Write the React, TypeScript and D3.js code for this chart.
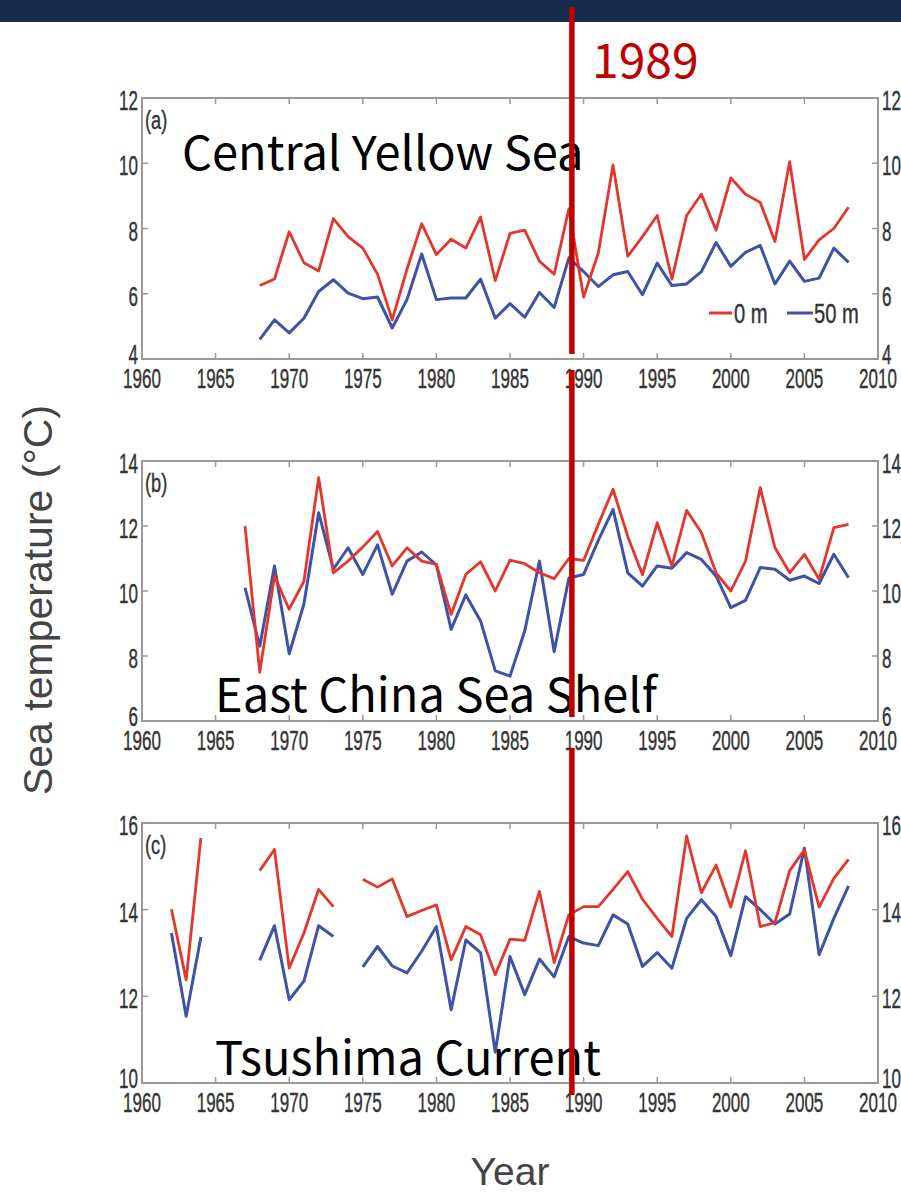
import React from "react";
import * as d3 from "d3";

// Central Yellow Sea (a), 1968-2008
const yearsA = d3.range(1968, 2009);
const surfaceA = [
  6.25, 6.45, 7.9, 6.95, 6.7, 8.3, 7.75, 7.4, 6.6, 5.2, 6.75, 8.15, 7.2, 7.67, 7.4, 8.35, 6.4, 7.85, 7.95, 7.0, 6.6,
  8.6, 5.9, 7.25, 9.95, 7.15, 7.75, 8.4, 6.45, 8.4, 9.05, 7.95, 9.55, 9.05, 8.8, 7.6, 10.05, 7.05, 7.65, 8.0, 8.65,
];
const deepA = [
  4.6, 5.2, 4.8, 5.25, 6.07, 6.43, 6.02, 5.85, 5.9, 4.95, 5.82, 7.22, 5.82, 5.87, 5.87, 6.45, 5.25, 5.7, 5.28, 6.04,
  5.58, 7.1, 6.68, 6.22, 6.58, 6.68, 5.97, 6.94, 6.25, 6.3, 6.68, 7.57, 6.84, 7.27, 7.48, 6.3, 7.0, 6.38, 6.48, 7.4,
  6.96,
];

// East China Sea Shelf (b), 1967-2008
const yearsB = d3.range(1967, 2009);
const surfaceB = [
  12.0, 7.5, 10.46, 9.44, 10.3, 13.49, 10.56, 10.92, 11.35, 11.83, 10.77, 11.33, 10.92, 10.82, 9.28, 10.51, 10.9, 10.0,
  10.95, 10.84, 10.56, 10.38, 11.0, 10.94, 12.05, 13.13, 11.68, 10.5, 12.1, 10.77, 12.48, 11.8, 10.56, 10.0, 10.92,
  13.18, 11.33, 10.56, 11.13, 10.36, 11.95, 12.05,
];
const deepB = [
  10.1, 8.3, 10.77, 8.07, 9.6, 12.41, 10.67, 11.33, 10.51, 11.42, 9.9, 10.92, 11.2, 10.8, 8.82, 9.88, 9.08, 7.54, 7.38,
  8.77, 10.92, 8.13, 10.4, 10.51, 11.56, 12.51, 10.56, 10.15, 10.77, 10.7, 11.18, 10.97, 10.46, 9.49, 9.71, 10.72,
  10.67, 10.33, 10.46, 10.23, 11.13, 10.41,
];

// Tsushima Current (c), 1962-2008, null = no observation
const yearsC = d3.range(1962, 2009);
const surfaceC = [
  14.01, 12.38, 15.65, null, null, null, 14.9, 15.39, 12.65, 13.46, 14.47, 14.07, null, 14.7, 14.52, 14.71, 13.84,
  13.98, 14.11, 12.84, 13.61, 13.42, 12.5, 13.32, 13.29, 14.42, 12.78, 13.88, 14.07, 14.07, 14.47, 14.88, 14.24, 13.8,
  13.38, 15.7, 14.39, 15.03, 14.06, 15.36, 13.61, 13.7, 14.9, 15.38, 14.06, 14.72, 15.16,
];
const deepC = [
  13.46, 11.54, 13.37, null, null, null, 12.83, 13.63, 11.92, 12.35, 13.63, 13.38, null, 12.68, 13.15, 12.7, 12.54,
  13.04, 13.61, 11.69, 13.3, 13.01, 10.71, 12.92, 12.04, 12.86, 12.45, 13.38, 13.23, 13.17, 13.88, 13.67, 12.69,
  13.01, 12.65, 13.8, 14.23, 13.84, 12.94, 14.3, 14.0, 13.67, 13.9, 15.42, 12.96, 13.8, 14.55,
];

const xTicks = [1960, 1965, 1970, 1975, 1980, 1985, 1990, 1995, 2000, 2005, 2010];
const ticksA = [4, 6, 8, 10, 12];
const ticksB = [6, 8, 10, 12, 14];
const ticksC = [10, 12, 14, 16];
const regionNames = ["Central Yellow Sea", "East China Sea Shelf", "Tsushima Current"];
const panelTags = ["(a)", "(b)", "(c)"];
const legendLabels = ["0 m", "50 m"];
const SHIFT_YEAR = 1989;

const RED = "#e5362d";
const BLUE = "#3f52a6";
const AXIS = "#9a9a9a";
const LABEL = "#333";
const MARK = "#c00000";
const TICK_FONT = "'Liberation Sans', Arial, sans-serif";
const KR_FONT = "'Noto Sans CJK KR', 'Noto Sans', sans-serif";

const x = d3.scaleLinear().domain([1960, 2010]).range([142, 878]);

interface Panel {
  top: number;
  bottom: number;
  domain: [number, number];
  ticks: number[];
  years: number[];
  surface: (number | null)[];
  deep: (number | null)[];
  name: string;
  tag: string;
  nameX: number;
  nameY: number;
}

const panels: Panel[] = [
  { top: 98, bottom: 359, domain: [4, 12], ticks: ticksA, years: yearsA, surface: surfaceA, deep: deepA, name: regionNames[0], tag: panelTags[0], nameX: 182, nameY: 170 },
  { top: 461, bottom: 721, domain: [6, 14], ticks: ticksB, years: yearsB, surface: surfaceB, deep: deepB, name: regionNames[1], tag: panelTags[1], nameX: 215, nameY: 712 },
  { top: 823, bottom: 1083, domain: [10, 16], ticks: ticksC, years: yearsC, surface: surfaceC, deep: deepC, name: regionNames[2], tag: panelTags[2], nameX: 215, nameY: 1075 },
];

// matlab style narrow labels
function Narrow({ x, y, anchor, size, sx, fill, children }: any) {
  return (
    <text
      transform={`translate(${x},${y}) scale(${sx},1)`}
      textAnchor={anchor}
      fontSize={size}
      fontFamily={TICK_FONT}
      fill={fill}
      stroke={fill}
      strokeWidth={0.4}
    >
      {children}
    </text>
  );
}

function PanelChart({ p, legend }: { p: Panel; legend: boolean }) {
  const y = d3.scaleLinear().domain(p.domain).range([p.bottom, p.top]);
  const line = d3
    .line<number | null>()
    .defined((d) => d != null)
    .x((_, i) => x(p.years[i]))
    .y((d) => y(d as number));
  const x0 = x.range()[0];
  const x1 = x.range()[1];

  return (
    <g>
      <rect x={x0} y={p.top} width={x1 - x0} height={p.bottom - p.top} fill="none" stroke={AXIS} strokeWidth={2} />
      {xTicks.map((t) => (
        <g key={t}>
          <line x1={x(t)} x2={x(t)} y1={p.bottom} y2={p.bottom - 6} stroke={AXIS} strokeWidth={1.5} />
          <line x1={x(t)} x2={x(t)} y1={p.top} y2={p.top + 6} stroke={AXIS} strokeWidth={1.5} />
          <Narrow x={x(t)} y={p.bottom + 29} anchor="middle" size={27} sx={0.63} fill={LABEL}>
            {t}
          </Narrow>
        </g>
      ))}
      {p.ticks.map((t, i) => {
        const by = i === 0 ? y(t) + 5 : y(t) + 12;
        return (
          <g key={t}>
            <line x1={x0} x2={x0 + 6} y1={y(t)} y2={y(t)} stroke={AXIS} strokeWidth={1.5} />
            <line x1={x1} x2={x1 - 6} y1={y(t)} y2={y(t)} stroke={AXIS} strokeWidth={1.5} />
            <Narrow x={x0 - 4} y={by} anchor="end" size={27} sx={0.63} fill={LABEL}>
              {t}
            </Narrow>
            <Narrow x={x1 + 4} y={by} anchor="start" size={27} sx={0.63} fill={LABEL}>
              {t}
            </Narrow>
          </g>
        );
      })}
      <Narrow x={x0 + 3} y={p.top + 31} anchor="start" size={26} sx={0.7} fill={LABEL}>
        {p.tag}
      </Narrow>
      <text x={p.nameX} y={p.nameY} fontSize={47} fontFamily={KR_FONT} fill="#000">
        {p.name}
      </text>
      <path d={line(p.deep) ?? ""} fill="none" stroke={BLUE} strokeWidth={3} strokeLinejoin="round" />
      <path d={line(p.surface) ?? ""} fill="none" stroke={RED} strokeWidth={2.8} strokeLinejoin="round" />
      {legend && (
        <g>
          <line x1={709} x2={732} y1={313} y2={313} stroke={RED} strokeWidth={3} />
          <Narrow x={734} y={323} anchor="start" size={28} sx={0.72} fill={LABEL}>
            {legendLabels[0]}
          </Narrow>
          <line x1={787} x2={813} y1={313} y2={313} stroke={BLUE} strokeWidth={3} />
          <Narrow x={814} y={323} anchor="start" size={28} sx={0.72} fill={LABEL}>
            {legendLabels[1]}
          </Narrow>
        </g>
      )}
    </g>
  );
}

export default function App() {
  const mx = x(SHIFT_YEAR) + 3;
  return (
    <svg
      width={901}
      height={1192}
      viewBox="0 0 901 1192"
      style={{ position: "absolute", left: 0, top: 0, background: "#fff" }}
    >
      <rect x={0} y={0} width={901} height={22} fill="#172c4b" />
      {panels.map((p, i) => (
        <PanelChart key={p.tag} p={p} legend={i === 0} />
      ))}
      <text
        transform="translate(52,600) rotate(-90)"
        textAnchor="middle"
        fontSize={41}
        fontFamily={TICK_FONT}
        fill="#444"
      >
        Sea temperature (°C)
      </text>
      <text x={510} y={1185} textAnchor="middle" fontSize={39} fontFamily={TICK_FONT} fill="#444">
        Year
      </text>
      {/* regime shift marker */}
      <line x1={mx} x2={mx} y1={7} y2={354} stroke={MARK} strokeWidth={5.5} />
      <line x1={mx} x2={mx} y1={370} y2={717} stroke={MARK} strokeWidth={5.5} />
      <line x1={mx} x2={mx} y1={748} y2={1095} stroke={MARK} strokeWidth={5.5} />
      <text x={592} y={78} fontSize={48} fontFamily={KR_FONT} fill={MARK}>
        {SHIFT_YEAR}
      </text>
    </svg>
  );
}
